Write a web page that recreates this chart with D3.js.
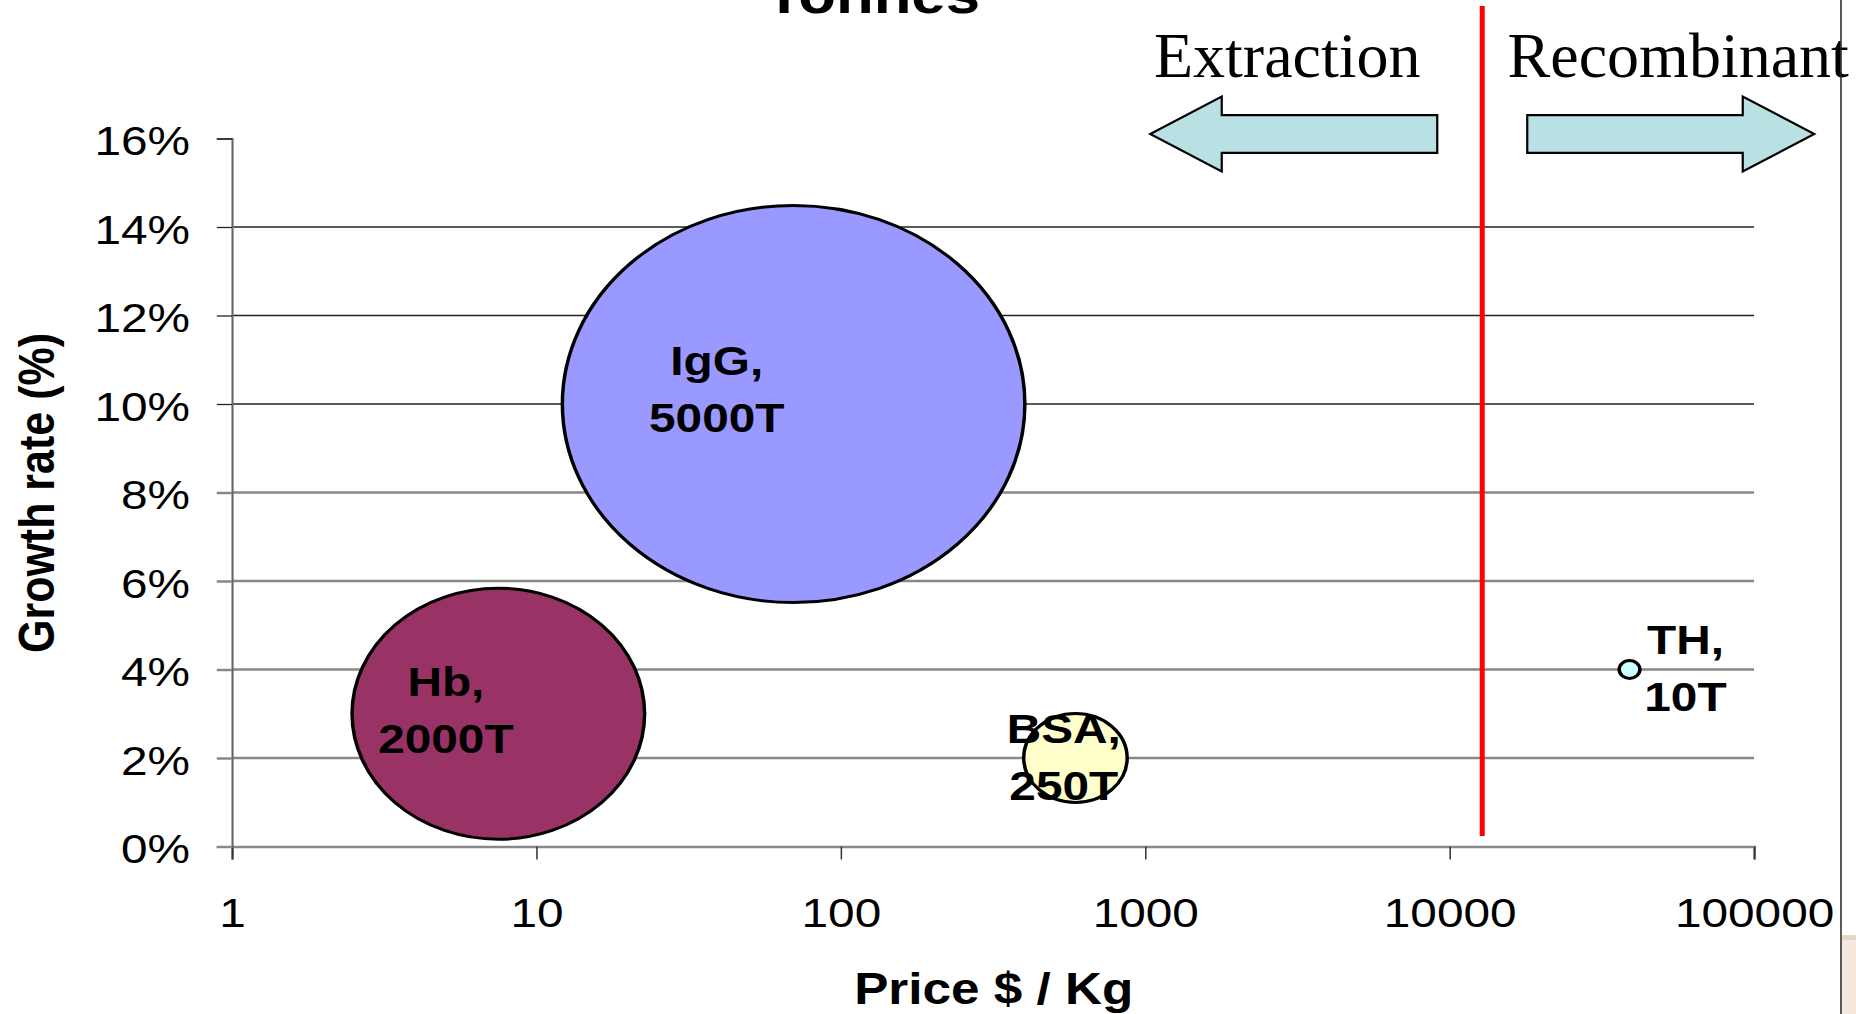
<!DOCTYPE html>
<html lang="en">
<head>
	<meta charset="UTF-8">
	<title>Price vs growth</title>
	<style>
		body { margin: 0; background: #fff; }
	</style>
</head>
<body>
	<script src="https://d3js.org/d3.v7.min.js"></script>
	<script type="text/javascript">
		var width = 1856;
		var height = 1014;
		var stretch = 1.165;   // chart was pasted in wider than tall

		var products = ["Hb", "IgG", "BSA", "TH"];
		var prices = [7.5, 70, 590, 39000];
		var growth = [3, 10, 2, 4];
		var tonnes = [2000, 5000, 250, 10];
		var xTicks = [1, 10, 100, 1000, 10000, 100000];
		var yTicks = [0, 2, 4, 6, 8, 10, 12, 14, 16];
		var splitPrice = 12800;

		// label placement next to each bubble (dx, dy of first line)
		var labelPos = {Hb: [-45, -18], IgG: [-66, -29], BSA: [-10, -15], TH: [48, -15]};

		var sans = "'Liberation Sans', Arial, sans-serif";
		var serif = "'Liberation Serif', 'Times New Roman', serif";

		var svg = d3.select("body").append("svg").attr("width", width).attr("height", height)
			.style("font-family", sans);

		var chart = svg.append("g").attr("transform", "scale(" + stretch + ",1)");

		var x = d3.scaleLog().domain([1, 100000]).range([199.1, 1505.6]);
		var y = d3.scaleLinear().domain([0, 16]).range([846.5, 138.5]);
		var r = d3.scaleSqrt().domain([0, 5000]).range([0, 198.5]);
		var color = d3.scaleOrdinal().domain(products).range(["#993366", "#9999ff", "#ffffcc", "#ccffff"]);

		//网格线
		chart.selectAll(".grid")
			.data(yTicks.filter(function(d){ return d > 0 && d < 16; }))
			.enter()
			.append("line")
			.attr("x1", x(1))
			.attr("x2", x(100000))
			.attr("y1", function(d){ return y(d); })
			.attr("y2", function(d){ return y(d); })
			.attr("stroke", function(d){ return d >= 10 ? "#222" : "#888"; })
			.attr("stroke-width", function(d){ return d >= 10 ? 1.3 : 2.5; });

		//x轴
		var xAxis = d3.axisBottom(x).tickValues(xTicks).tickFormat(d3.format("d")).tickSize(13);
		var gx = chart.append("g")
			.attr("transform", "translate(0," + y(0) + ")")
			.call(xAxis);
		gx.attr("font-family", null);
		gx.select(".domain").attr("stroke", "#888").attr("stroke-width", 2.5);
		gx.selectAll(".tick line").attr("stroke", "#333").attr("stroke-width", 1.3);
		gx.selectAll(".tick text")
			.attr("y", 81)
			.attr("dy", 0)
			.attr("fill", "#000")
			.attr("font-size", 41);

		//y轴
		var yAxis = d3.axisLeft(y).tickValues(yTicks).tickFormat(function(d){ return d + "%"; }).tickSize(13);
		var gy = chart.append("g")
			.attr("transform", "translate(" + x(1) + ",0)")
			.call(yAxis);
		gy.attr("font-family", null);
		gy.select(".domain").attr("stroke", "#666").attr("stroke-width", 1.8);
		gy.selectAll(".tick line").attr("stroke", function(d){ return d >= 10 ? "#222" : "#888"; })
			.attr("stroke-width", function(d){ return d >= 10 ? 1.3 : 2.5; });
		gy.selectAll(".tick text")
			.attr("x", -36)
			.attr("dy", 16)
			.attr("fill", "#000")
			.attr("font-size", 41);

		//气泡
		chart.selectAll(".bubble")
			.data(products)
			.enter()
			.append("circle")
			.attr("cx", function(d, i){ return x(prices[i]); })
			.attr("cy", function(d, i){ return y(growth[i]); })
			.attr("r", function(d, i){ return r(tonnes[i]); })
			.attr("fill", function(d){ return color(d); })
			.attr("stroke", "#000")
			.attr("stroke-width", 3);

		var labels = chart.selectAll(".label")
			.data(products)
			.enter()
			.append("text")
			.attr("text-anchor", "middle")
			.attr("font-weight", "bold")
			.attr("font-size", 41)
			.attr("fill", "#000");
		labels.append("tspan")
			.attr("x", function(d, i){ return x(prices[i]) + labelPos[d][0]; })
			.attr("y", function(d, i){ return y(growth[i]) + labelPos[d][1]; })
			.text(function(d){ return d + ","; });
		labels.append("tspan")
			.attr("x", function(d, i){ return x(prices[i]) + labelPos[d][0]; })
			.attr("y", function(d, i){ return y(growth[i]) + labelPos[d][1] + 57; })
			.text(function(d, i){ return tonnes[i] + "T"; });

		//标题
		chart.append("text")
			.attr("x", 749)
			.attr("y", 13)
			.attr("text-anchor", "middle")
			.attr("font-weight", "bold")
			.attr("font-size", 53)
			.text("Tonnes");

		chart.append("text")
			.attr("x", 853)
			.attr("y", 1004)
			.attr("text-anchor", "middle")
			.attr("font-weight", "bold")
			.attr("font-size", 44)
			.text("Price $ / Kg");

		chart.append("text")
			.attr("transform", "translate(46.5,493) rotate(-90)")
			.attr("text-anchor", "middle")
			.attr("font-weight", "bold")
			.attr("font-size", 43)
			.text("Growth rate (%)");

		// overlay: extraction / recombinant split
		var splitX = stretch * x(splitPrice);

		svg.append("line")
			.attr("x1", splitX).attr("x2", splitX)
			.attr("y1", 6).attr("y2", 836)
			.attr("stroke", "#ff0000")
			.attr("stroke-width", 5);

		function arrow(dir) {
			var gap = 45, len = 332, head = 71.5, cy = 134, sh = 18.8, hh = 37.5;
			var a = splitX + dir * gap, tip = splitX + dir * len, base = tip - dir * head;
			var p = d3.path();
			p.moveTo(a, cy - sh);
			p.lineTo(base, cy - sh);
			p.lineTo(base, cy - hh);
			p.lineTo(tip, cy);
			p.lineTo(base, cy + hh);
			p.lineTo(base, cy + sh);
			p.lineTo(a, cy + sh);
			p.closePath();
			return p.toString();
		}

		svg.selectAll(".arrow")
			.data([-1, 1])
			.enter()
			.append("path")
			.attr("d", function(d){ return arrow(d); })
			.attr("fill", "#b9e0e3")
			.attr("stroke", "#000")
			.attr("stroke-width", 2.2);

		svg.selectAll(".side")
			.data(["Extraction", "Recombinant"])
			.enter()
			.append("text")
			.attr("x", function(d, i){ return splitX + (i ? 196 : -195); })
			.attr("y", 77)
			.attr("text-anchor", "middle")
			.style("font-family", serif)
			.attr("font-size", 64)
			.attr("fill", "#000")
			.text(function(d){ return d; });

		// slide edge on the right
		svg.append("rect")
			.attr("x", 1842).attr("y", 935)
			.attr("width", 14).attr("height", 79)
			.attr("fill", "#f4e8df");
		svg.append("rect")
			.attr("x", 1842).attr("y", 935)
			.attr("width", 14).attr("height", 5)
			.attr("fill", "#e6d6c6");
		svg.append("line")
			.attr("x1", 1841).attr("x2", 1841)
			.attr("y1", 0).attr("y2", height)
			.attr("stroke", "#222")
			.attr("stroke-width", 1.5);
	</script>
</body>
</html>
